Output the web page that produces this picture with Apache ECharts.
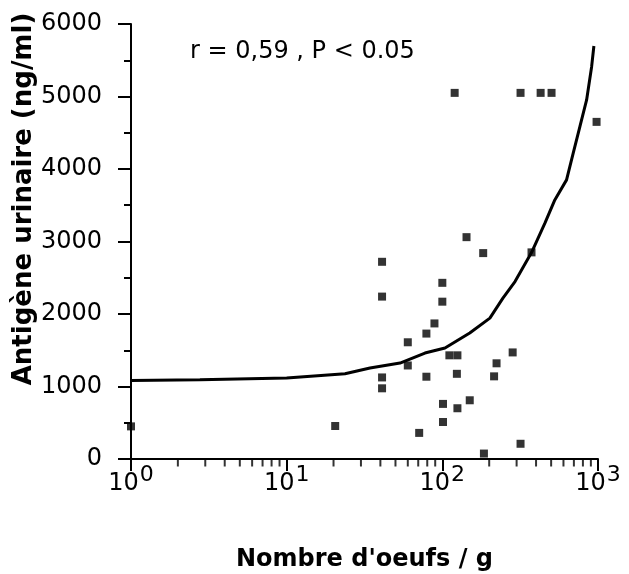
<!DOCTYPE html>
<html>
<head>
<meta charset="utf-8">
<script src="https://cdn.jsdelivr.net/npm/echarts@6/dist/echarts.min.js"></script>
<style>html,body{margin:0;padding:0;background:#fff}#c{width:629px;height:574px}</style>
</head>
<body>
<div id="c"></div>
<script>
// Observed points: eggs per gram vs urinary antigen (ng/ml)
const eggs = [120, 318, 428, 503, 979, 143, 183, 374, 41, 41, 100, 100, 89, 79, 60, 111, 125, 283, 223, 60, 41, 41, 79, 124, 215, 1, 20.5, 71, 101, 101, 125, 150, 185, 318];
const antigen = [5050, 5050, 5050, 5050, 4650, 3060, 2840, 2850, 2720, 2240, 2430, 2170, 1870, 1730, 1610, 1430, 1430, 1470, 1320, 1290, 1125, 975, 1135, 1175, 1140, 450, 455, 360, 760, 510, 700, 810, 75, 210];
// Fitted curve
const fitX = [1, 2.77, 10, 23.7, 34.3, 53.5, 77.3, 104, 150, 202, 245, 293, 374, 456, 528, 628, 693, 765, 845, 910, 941];
const fitY = [1083, 1093, 1116, 1176, 1254, 1323, 1461, 1530, 1737, 1943, 2219, 2448, 2848, 3253, 3574, 3850, 4218, 4584, 4952, 5411, 5697];
// Minor tick values for the log axis
const xMinor = [2, 3, 4, 5, 6, 7, 8, 9, 20, 30, 40, 50, 60, 70, 80, 90, 200, 300, 400, 500, 600, 700, 800, 900];
const xTitle = "Nombre d'oeufs / g";
const yTitle = 'Antigène urinaire (ng/ml)';
const note = 'r = 0,59 , P < 0.05';

const chart = echarts.init(document.getElementById('c'), null, {renderer: 'canvas'});
const FONT = 'DejaVu Sans';
chart.setOption({
  animation: false,
  backgroundColor: '#fff',
  grid: {left: 131, right: 31, top: 24, bottom: 115, containLabel: false, outerBoundsMode: 'none'},
  xAxis: {
    type: 'log', logBase: 10, min: 1, max: 1000,
    name: xTitle, nameLocation: 'middle', nameGap: 89,
    nameTextStyle: {fontFamily: FONT, fontSize: 24, fontWeight: 'bold', color: '#000'},
    axisLine: {lineStyle: {color: '#000', width: 2}},
    axisTick: {show: true, length: 12, lineStyle: {color: '#000', width: 2}},
    splitLine: {show: false},
    axisLabel: {
      margin: 13,
      formatter: function (v) { return '{b|10}{s|' + Math.round(Math.log10(v)) + '}'; },
      rich: {
        b: {fontFamily: FONT, fontSize: 24, color: '#000', lineHeight: 24, verticalAlign: 'bottom'},
        s: {fontFamily: FONT, fontSize: 22, color: '#000', lineHeight: 22, verticalAlign: 'bottom', padding: [0, 0, 10, 1]}
      }
    }
  },
  yAxis: {
    type: 'value', min: 0, max: 6000, interval: 1000,
    axisLine: {show: true, lineStyle: {color: '#000', width: 2}},
    axisTick: {show: true, length: 13, lineStyle: {color: '#000', width: 2}},
    minorTick: {show: true, splitNumber: 2, length: 7, lineStyle: {color: '#000', width: 2}},
    splitLine: {show: false},
    axisLabel: {margin: 29, fontFamily: FONT, fontSize: 24, color: '#000', formatter: function (v) { return String(v); }}
  },
  graphic: [
    {type: 'text', left: 190, top: 40, style: {text: note, fontFamily: FONT, fontSize: 24, fill: '#000'}},
    {type: 'text', x: 24, y: 199, rotation: Math.PI / 2,
     style: {text: yTitle, fontFamily: FONT, fontSize: 26, fontWeight: 'bold', fill: '#000', align: 'center', verticalAlign: 'middle'}}
  ],
  series: [
    {
      type: 'line', data: fitX.map((x, i) => [x, fitY[i]]), showSymbol: false, symbol: 'none',
      lineStyle: {color: '#000', width: 3}, clip: false, z: 3
    },
    {
      type: 'scatter', data: eggs.map((x, i) => [x, antigen[i]]), symbol: 'rect', symbolSize: 8,
      itemStyle: {color: '#000'}, clip: false, z: 4
    },
    {
      type: 'scatter', data: xMinor.map(x => [x, 0]), symbol: 'rect', symbolSize: [2, 7], symbolOffset: [0, 4],
      itemStyle: {color: '#000'}, clip: false, silent: true, z: 2
    }
  ]
});
</script>
</body>
</html>
